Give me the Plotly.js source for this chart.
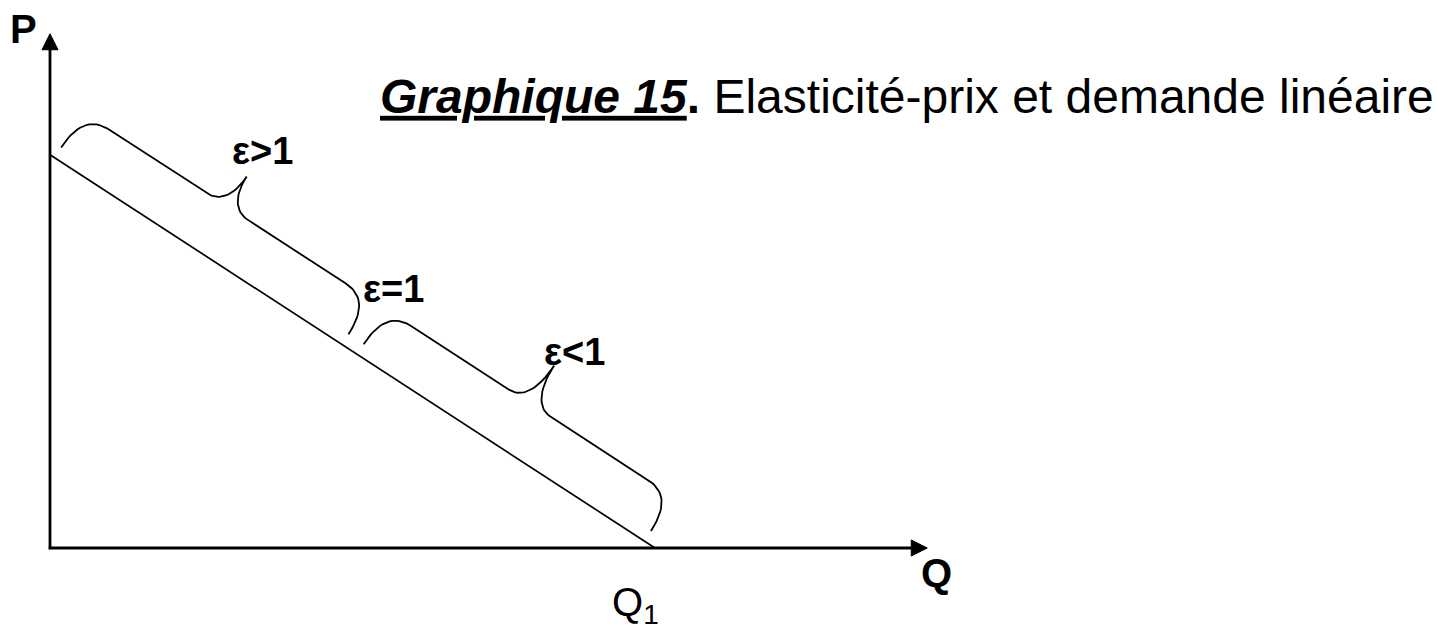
<!DOCTYPE html>
<html>
<head>
<meta charset="utf-8">
<script src="https://cdn.plot.ly/plotly-3.0.1.min.js"></script>
<style>html,body{margin:0;padding:0;background:#fff;overflow:hidden}</style>
</head>
<body>
<div id="chart" style="width:1437px;height:629px"></div>
<script>
// ---------- data ----------
const demandQ = [0, 10];          // demand line: Q at P-intercept, Q1
const demandP = [6.5, 0];         // demand line: P-intercept, P at Q1
const axisQmax = 14.5;            // length of the Q axis (arrow tip)
const axisPmax = 8.5;             // length of the P axis (arrow tip)
const braceFrom = [0, 0.5];       // elasticity regions, as fraction of the demand line
const braceTo = [0.5, 1];
const braceLabels = ['ε>1', 'ε<1'];
const unitLabel = 'ε=1';
const unitAt = 0.5;
const axisLabels = ['P', 'Q'];
const q1Label = 'Q<sub>1</sub>';
const titleText = '<b><i><u>Graphique 15</u></i>.</b> Elasticité-prix et demande linéaire';

// ---------- geometry / style ----------
const W = 1437, H = 629, PX = 60.5, X0 = 50, Y0 = 548;
const FONT = 'Liberation Sans, Arial, sans-serif';
const Pint = demandP[0], Q1 = demandQ[1];
const L = Math.hypot(Q1 - demandQ[0], Pint - demandP[1]);
const d = [(Q1 - demandQ[0]) / L, (demandP[1] - Pint) / L];
const n = [-d[1], d[0]];
function pt(s, v) { return [demandQ[0] + d[0] * s + n[0] * v, Pint + d[1] * s + n[1] * v]; }

function bez(p0, p1, p2, p3, N) {
  const out = [];
  for (let i = 0; i <= N; i++) {
    const t = i / N, m = 1 - t;
    out.push([m*m*m*p0[0] + 3*m*m*t*p1[0] + 3*m*t*t*p2[0] + t*t*t*p3[0],
              m*m*m*p0[1] + 3*m*m*t*p1[1] + 3*m*t*t*p2[1] + t*t*t*p3[1]]);
  }
  return out;
}
const VE = 0.2, HH = 0.88, R1 = 0.5, R2 = 0.4, INS = 0.09, INE = 0.21;
const braceTip = [1.47, 1.62];
const labelOff = [[0.26, 0.42], [0.33, 0.22]];

function brace(a, b, T) {
  const m = (a + b) / 2;
  let loc = [];
  loc = loc.concat(bez([a, VE], [a, VE + (HH - VE) * 0.7], [a + R1 * 0.35, HH], [a + R1, HH], 20));
  loc.push([m - R2, HH]);
  loc = loc.concat(bez([m - R2, HH], [m - R2 * 0.4, HH], [m, HH + (T - HH) * 0.35], [m, T], 20));
  loc = loc.concat(bez([m, T], [m, HH + (T - HH) * 0.35], [m + R2 * 0.4, HH], [m + R2, HH], 20));
  loc.push([b - R1, HH]);
  loc = loc.concat(bez([b - R1, HH], [b - R1 * 0.35, HH], [b, VE + (HH - VE) * 0.7], [b, VE], 20));
  const xy = loc.map(p => pt(p[0], p[1]));
  return { x: xy.map(p => p[0]), y: xy.map(p => p[1]), tip: pt(m, T) };
}

const traces = [];
const line = (x, y, w) => ({ x, y, mode: 'lines', line: { color: '#000', width: w }, hoverinfo: 'skip', showlegend: false, type: 'scatter' });

// axes
const ahL = 16 / PX, ahW = 8 / PX;
traces.push(line([0, 0], [-0.02, axisPmax - ahL], 2.8));
traces.push(line([-0.02, axisQmax - ahL], [0, 0], 2.8));
traces.push({ x: [-ahW, ahW, 0, -ahW], y: [axisPmax - ahL, axisPmax - ahL, axisPmax, axisPmax - ahL], mode: 'lines', fill: 'toself', fillcolor: '#000', line: { color: '#000', width: 1 }, hoverinfo: 'skip', showlegend: false, type: 'scatter' });
traces.push({ x: [axisQmax - ahL, axisQmax - ahL, axisQmax, axisQmax - ahL], y: [-ahW, ahW, 0, -ahW], mode: 'lines', fill: 'toself', fillcolor: '#000', line: { color: '#000', width: 1 }, hoverinfo: 'skip', showlegend: false, type: 'scatter' });

// demand line
traces.push(line(demandQ, demandP, 1.7));

const annotations = [];
const ann = (text, x, y, size, bold, extra) => Object.assign({ text: bold ? '<b>' + text + '</b>' : text, x, y, xref: 'x', yref: 'y', showarrow: false, xanchor: 'center', yanchor: 'middle', font: { family: FONT, size, color: '#000' } }, extra || {});

// braces + labels
for (let i = 0; i < braceFrom.length; i++) {
  const br = brace(braceFrom[i] * L + INS, braceTo[i] * L - INE, braceTip[i]);
  traces.push(line(br.x, br.y, 1.8));
  annotations.push(ann(braceLabels[i], br.tip[0] + labelOff[i][0], br.tip[1] + labelOff[i][1], 38, true));
}
const um = pt(unitAt * L, 0);
annotations.push(ann(unitLabel, um[0] + 0.68, um[1] + 1.03, 38, true));

// axis labels
annotations.push(ann(axisLabels[0], -0.43, axisPmax + 0.08, 40, true));
annotations.push(ann(axisLabels[1], axisQmax + 0.16, -0.42, 40, true));
annotations.push(ann(q1Label, Q1 - 0.33, -0.95, 40, false));

const layout = {
  width: W, height: H,
  margin: { l: 0, r: 0, t: 0, b: 0, pad: 0 },
  paper_bgcolor: '#fff', plot_bgcolor: '#fff',
  xaxis: { range: [-X0 / PX, (W - X0) / PX], visible: false, fixedrange: true },
  yaxis: { range: [-(H - Y0) / PX, Y0 / PX], visible: false, fixedrange: true },
  title: { text: titleText, x: 380 / W, xanchor: 'left', xref: 'paper', y: 1 - 96 / H, yanchor: 'middle', yref: 'container', automargin: false, font: { family: FONT, size: 48, color: '#000' } },
  annotations,
  showlegend: false
};
Plotly.newPlot('chart', traces, layout, { displayModeBar: false, staticPlot: true });
</script>
</body>
</html>
